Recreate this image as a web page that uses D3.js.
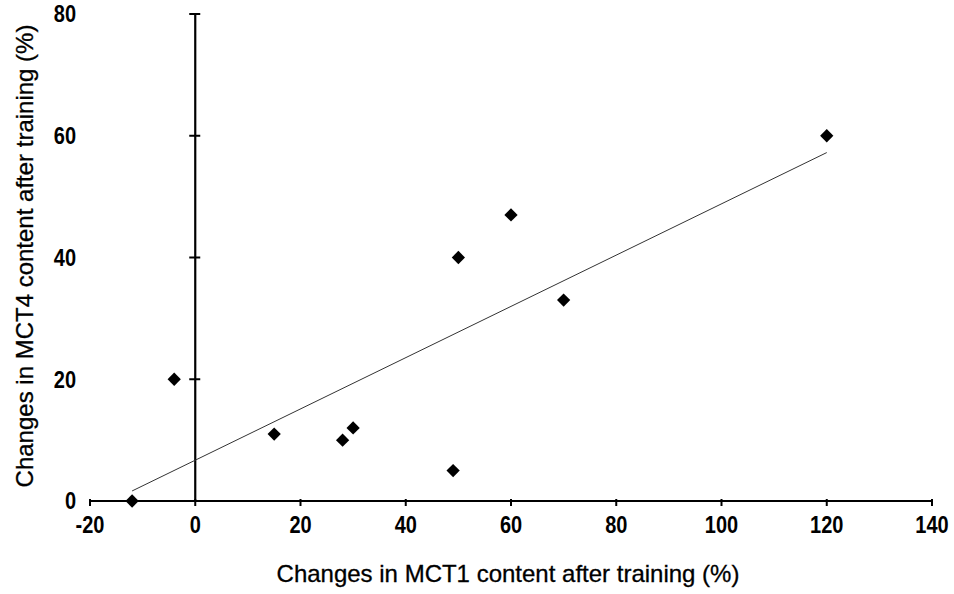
<!DOCTYPE html>
<html>
<head>
<meta charset="utf-8">
<script src="https://cdn.jsdelivr.net/npm/d3@7"></script>
<style>
  body { margin: 0; background: #fff; }
  text { font-family: "Liberation Sans", Arial, sans-serif; fill: #000; }
</style>
</head>
<body>
<div id="chart"></div>
<script>
// data
const mct1Change = [-12, -4, 15, 28, 30, 49, 50, 60, 70, 120];
const mct4Change = [0, 20, 11, 10, 12, 5, 40, 47, 33, 60];
const xTicks = [-20, 0, 20, 40, 60, 80, 100, 120, 140];
const yTicks = [0, 20, 40, 60, 80];
const xTitle = "Changes in MCT1 content after training (%)";
const yTitle = "Changes in MCT4 content after training (%)";

const width = 954;
const height = 594;

const svg = d3.select("#chart").append("svg")
  .attr("width", width)
  .attr("height", height);

const x = d3.scaleLinear().domain([-20, 140]).range([90, 932]);
const y = d3.scaleLinear().domain([0, 80]).range([501, 14]);

// x axis along y = 0
const xAxis = svg.append("g").attr("transform", "translate(0," + y(0) + ")");
xAxis.append("line")
  .attr("x1", x(-20)).attr("x2", x(140))
  .attr("stroke", "#000").attr("stroke-width", 2.2);
xAxis.selectAll(".tick").data(xTicks).enter().append("line")
  .attr("x1", d => x(d)).attr("x2", d => x(d))
  .attr("y1", -2).attr("y2", 5)
  .attr("stroke", "#000").attr("stroke-width", 2);
// the tick labels in the picture are drawn a little taller than wide
xAxis.selectAll("text").data(xTicks).enter().append("text")
  .attr("transform", d => "translate(" + x(d) + ",32) scale(1,1.15)")
  .attr("text-anchor", "middle")
  .style("font-size", "20px")
  .style("font-weight", "bold")
  .text(d => d);

// y axis along x = 0
const yAxis = svg.append("g").attr("transform", "translate(" + x(0) + ",0)");
yAxis.append("line")
  .attr("y1", y(0)).attr("y2", y(80))
  .attr("stroke", "#000").attr("stroke-width", 2.2);
yAxis.selectAll(".tick").data(yTicks).enter().append("line")
  .attr("y1", d => y(d)).attr("y2", d => y(d))
  .attr("x1", -6).attr("x2", 5)
  .attr("stroke", "#000").attr("stroke-width", 2);

// y tick labels sit at the left edge of the plot
svg.append("g").selectAll("text").data(yTicks).enter().append("text")
  .attr("transform", d => "translate(76," + y(d) + ") scale(1,1.15)")
  .attr("dy", "0.36em")
  .attr("text-anchor", "end")
  .style("font-size", "20px")
  .style("font-weight", "bold")
  .text(d => d);

// least squares trend line over the points
const n = mct1Change.length;
const mx = d3.mean(mct1Change);
const my = d3.mean(mct4Change);
let sxy = 0, sxx = 0;
for (let i = 0; i < n; i++) {
  sxy += (mct1Change[i] - mx) * (mct4Change[i] - my);
  sxx += (mct1Change[i] - mx) * (mct1Change[i] - mx);
}
const slope = sxy / sxx;
const intercept = my - slope * mx;
const xExtent = d3.extent(mct1Change);

svg.append("path")
  .datum(xExtent)
  .attr("d", d3.line().x(d => x(d)).y(d => y(intercept + slope * d)))
  .attr("fill", "none")
  .attr("stroke", "#333")
  .attr("stroke-width", 1);

// diamond markers
const diamond = d3.symbol().type(d3.symbolSquare).size(88);
svg.append("g").selectAll("path")
  .data(d3.range(n))
  .enter().append("path")
  .attr("d", diamond)
  .attr("transform", i => "translate(" + x(mct1Change[i]) + "," + y(mct4Change[i]) + ") rotate(45)")
  .attr("fill", "#000");

// axis titles
svg.append("text")
  .attr("x", 508)
  .attr("y", 582)
  .attr("text-anchor", "middle")
  .style("font-size", "24px")
  .style("stroke", "#000")
  .style("stroke-width", 0.3)
  .text(xTitle);

svg.append("text")
  .attr("transform", "translate(33,256) rotate(-90)")
  .attr("text-anchor", "middle")
  .style("font-size", "24px")
  .style("stroke", "#000")
  .style("stroke-width", 0.3)
  .text(yTitle);
</script>
</body>
</html>
